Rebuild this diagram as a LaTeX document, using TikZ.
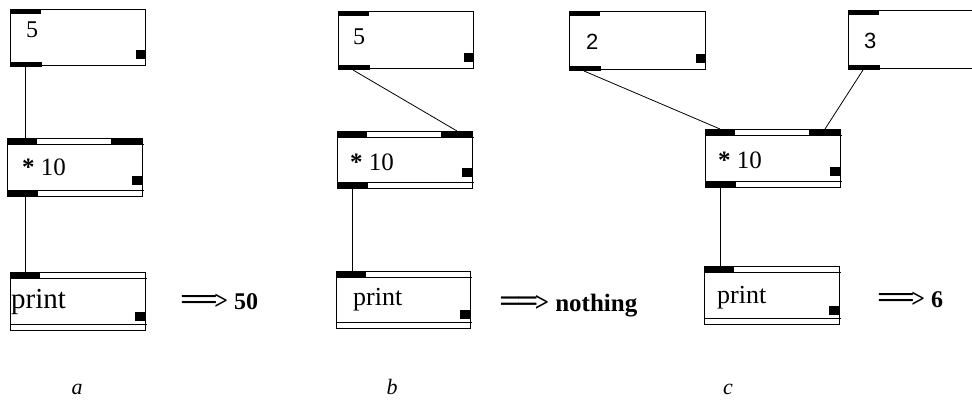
\documentclass[tikz,border=0pt]{standalone}
\usepackage{fontspec}
\usepackage{graphicx}
\setmainfont{Liberation Serif}
\newfontfamily\pdsans{Liberation Sans}
\newcommand\pdarrow{\scalebox{1.55}[1.25]{=\kern-.12em=\kern-.1em}\scalebox{1}[1.1]{>}}
\tikzset{
  boxline/.style={draw=black, line width=0.8pt},
  pdbox/.style={boxline, rectangle, inner sep=0pt, anchor=north west},
  wire/.style={draw=black, line width=0.8pt},
  numtxt/.style={anchor=base west, inner sep=0pt, font=\fontsize{24}{28}\selectfont},
  sanstxt/.style={anchor=base west, inner sep=0pt, font=\pdsans\fontsize{22}{26}\selectfont},
  objtxt/.style={anchor=base west, inner sep=0pt, font=\fontsize{25}{29}\selectfont},
  printtxt/.style={anchor=base west, inner sep=0pt, font=\fontsize{26}{30}\selectfont},
  restxt/.style={anchor=base west, inner sep=0pt, font=\bfseries\fontsize{24}{28}\selectfont},
  captxt/.style={anchor=base, inner sep=0pt, font=\itshape\fontsize{22}{26}\selectfont}
}
% number box: name, L, T, R, B
\newcommand\pdnumbox[5]{%
  \node[pdbox, minimum width={(#4-#2)*1pt}, minimum height={(#5-#3)*1pt}] (#1) at (#2,#3) {};
  \fill (#2,#3) rectangle (#2+31,#3+5);
  \fill (#2,#5-3) rectangle (#2+32,#5+2);
  \fill (#4-9,#5-15) rectangle (#4,#5-6);
  \coordinate (#1-out) at (#2+15,#5+2);
}
% object box with two inlets and an outlet: name, L, T, R, B
\newcommand\pdobjbox[5]{%
  \node[pdbox, minimum width={(#4-#2)*1pt}, minimum height={(#5-#3)*1pt}] (#1) at (#2,#3) {};
  \draw[boxline] (#2,#3+6) -- (#4+2,#3+6);
  \draw[boxline] (#2,#5-6) -- (#4+2,#5-6);
  \fill (#2,#3) rectangle (#2+30,#3+6);
  \fill (#4-31,#3) rectangle (#4,#3+6);
  \fill (#2,#5-6) rectangle (#2+31,#5);
  \fill (#4-10,#5-20) rectangle (#4,#5-11);
  \coordinate (#1-inl) at (#2+15,#3);
  \coordinate (#1-inr) at (#4-15,#3);
  \coordinate (#1-out) at (#2+15,#5);
}
% print box with one inlet: name, L, T, R, B
\newcommand\pdprintbox[5]{%
  \node[pdbox, minimum width={(#4-#2)*1pt}, minimum height={(#5-#3)*1pt}] (#1) at (#2,#3) {};
  \draw[boxline] (#2,#3+6) -- (#4+2,#3+6);
  \draw[boxline] (#2,#5-6) -- (#4+2,#5-6);
  \fill (#2,#3) rectangle (#2+30,#3+6);
  \fill (#4-10,#5-18) rectangle (#4,#5-9);
}
\begin{document}
\begin{tikzpicture}[x=1pt, y=-1pt]
\useasboundingbox (0,0) rectangle (972,400);
\clip (0,0) rectangle (972,400);
\fill[white] (0,0) rectangle (972,400);

% ---------- panel a ----------
\pdnumbox{an}{10}{9}{145}{65}
\pdobjbox{ao}{7}{138}{142}{196}
\pdprintbox{ap}{10}{272}{145}{330}
\node[numtxt] (ant) at (26,37) {5};
\node[objtxt] (aot) at (22,175) {{\bfseries *} 10};
\node[printtxt, font=\fontsize{29}{33}\selectfont] (apt) at (11,308) {print};
\node[restxt] (ar) at (180,309) {\pdarrow\ 50};
\draw[wire] (an-out) -- (an-out |- ao.north);
\draw[wire] (an-out |- ao.south) -- (an-out |- ap.north);
\node[captxt] (ca) at (77,394) {a};

% ---------- panel b ----------
\pdnumbox{bn}{338}{11}{473}{68}
\pdobjbox{bo}{337}{131}{472}{188}
\pdprintbox{bp}{336}{271}{470}{328}
\node[numtxt] (bnt) at (353,44) {5};
\node[objtxt] (bot) at (350,170) {{\bfseries *} 10};
\node[printtxt] (bpt) at (353,305) {print};
\node[restxt, font=\bfseries\fontsize{25}{29}\selectfont] (br) at (499,311) {\pdarrow\ nothing};
\draw[wire] (bn-out) -- (bo-inr);
\draw[wire] (bo-out) -- (bo-out |- bp.north);
\node[captxt] (cb) at (392,394) {b};

% ---------- panel c ----------
\pdnumbox{cn}{569}{11}{705}{69}
\pdnumbox{cm}{848}{10}{983}{68}
\pdobjbox{co}{705}{129}{840}{187}
\pdprintbox{cp}{704}{266}{839}{324}
\node[sanstxt] (cnt) at (586,49) {2};
\node[sanstxt] (cmt) at (864,48) {3};
\node[objtxt] (cot) at (718,168) {{\bfseries *} 10};
\node[printtxt] (cpt) at (717,303) {print};
\node[restxt] (cr) at (877,307) {\pdarrow\ 6};
\draw[wire] (cn-out) -- (co-inl);
\draw[wire] (cm-out) -- (co-inr);
\draw[wire] (co-out) -- (co-out |- cp.north);
\node[captxt] (cc) at (728,394) {c};
\end{tikzpicture}
\end{document}
